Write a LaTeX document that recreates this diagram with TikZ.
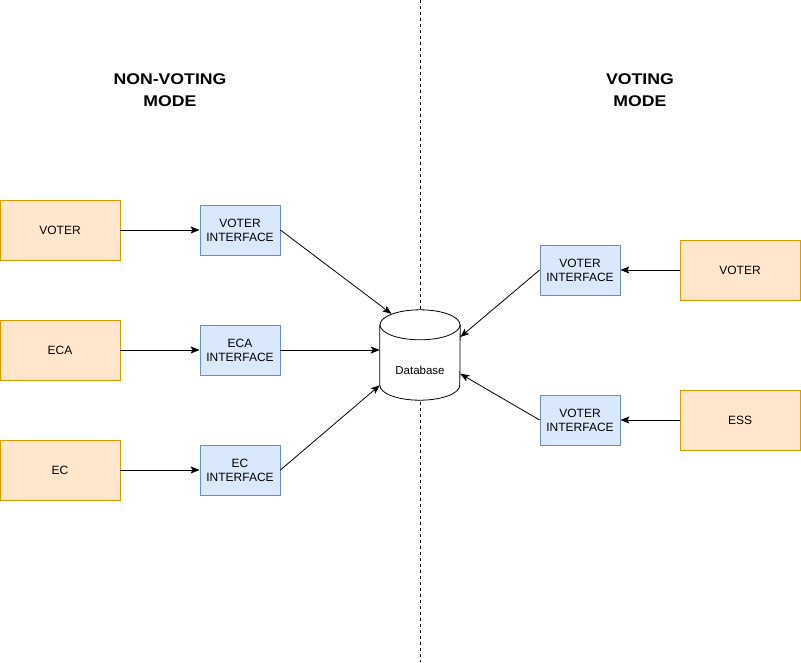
\documentclass[tikz,border=0pt]{standalone}
\usepackage{fontspec}
\setmainfont{Liberation Sans}
\newfontfamily\headfont[FakeStretch=1.14]{Liberation Sans}
\usetikzlibrary{shapes.geometric,arrows.meta}
\definecolor{actfill}{HTML}{FFE6CC}
\definecolor{actline}{HTML}{D79B00}
\definecolor{iffill}{HTML}{DAE8FC}
\definecolor{ifline}{HTML}{6C8EBF}
\newcommand{\actor}[3]{
  \node[actorbox] (#1) at (#2) {#3};% Draws an actor box
}
\newcommand{\iface}[3]{
  \node[ifacebox] (#1) at (#2) {#3};% Draws an interface box
}
\begin{document}
\begin{tikzpicture}[x=1pt,y=-1pt,
    actorbox/.style={draw=actline,fill=actfill,line width=0.8pt,minimum width=120pt,minimum height=60pt,inner sep=0pt,font=\fontsize{12}{14}\selectfont},
    ifacebox/.style={draw=ifline,fill=iffill,line width=0.8pt,minimum width=80pt,minimum height=50pt,inner sep=0pt,align=center,font=\fontsize{12}{14}\selectfont},
    heading/.style={align=center,font=\headfont\bfseries\fontsize{15.5}{22}\selectfont},
    conn/.style={line width=0.8pt,-{Stealth[length=9pt,width=7pt,inset=2pt]}}]
      \useasboundingbox (0,0) rectangle (801,662);

      % Divider between the two modes
      \coordinate (divtop) at (420,0);
      \coordinate (divbot) at (420,662);
      \draw[line width=0.8pt,dash pattern=on 3pt off 3pt] (divtop) -- (divbot);

      \node[heading] (nvmode) at (170,90) {NON-VOTING\\MODE};
      \node[heading] (vmode) at (640,90) {VOTING\\MODE};

      \actor{voter}{60,230}{VOTER}
      \actor{eca}{60,350}{ECA}
      \actor{ec}{60,470}{EC}
      \actor{rvoter}{740,270}{VOTER}
      \actor{ess}{740,420}{ESS}

      \iface{voteri}{240,230}{VOTER\\INTERFACE}
      \iface{ecai}{240,350}{ECA\\INTERFACE}
      \iface{eci}{240,470}{EC\\INTERFACE}
      \iface{rvoteri}{580,270}{VOTER\\INTERFACE}
      \iface{essi}{580,420}{VOTER\\INTERFACE}

      % Database cylinder: body, bottom arc and top ellipse
      \node[fill=white,minimum width=80pt,minimum height=60pt,inner sep=0pt] (db) at (420,355) {};
      \fill[white] (db.south west) arc[start angle=180,end angle=0,x radius=40,y radius=15];
      \draw[line width=0.8pt] (db.north west) -- (db.south west)
        arc[start angle=180,end angle=0,x radius=40,y radius=15] -- (db.north east);
      \node[ellipse,draw,fill=white,line width=0.8pt,minimum width=80pt,minimum height=30pt,inner sep=0pt] (dbtop) at (db.north) {};
      \node[font=\fontsize{11.5}{13}\selectfont] (dbtext) at (420,370) {Database};

      \foreach \a/\b in {voter/voteri,eca/ecai,ec/eci} {
        \draw[conn] (\a) -- (\b);
      }
      \draw[conn] (rvoter) -- (rvoteri);
      \draw[conn] (ess) -- (essi);

      \draw[conn] (voteri.east) -- (dbtop.159);
      \draw[conn] (ecai.east) -- (ecai.east -| db.west);
      \draw[conn] (eci.east) -- (db.south west);
      \draw[conn] (rvoteri.west) -- (db.24);
      \draw[conn] (essi.west) -- (db.335);
    \end{tikzpicture}
\end{document}
